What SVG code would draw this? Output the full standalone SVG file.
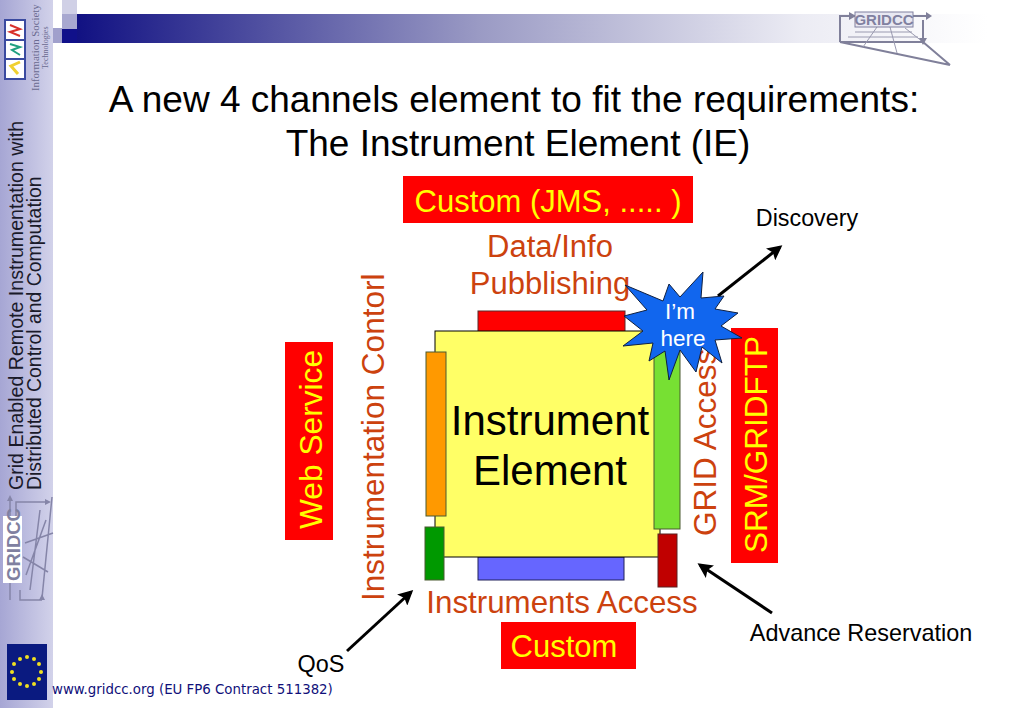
<svg xmlns="http://www.w3.org/2000/svg" width="1023" height="708" viewBox="0 0 1023 708">
<style>
text{font-family:"Liberation Sans",Arial,sans-serif}
.o{fill:#cc420e}
.y{fill:#ffff00}
.r{fill:#ff0000}
.b{stroke:#4a5a30;stroke-width:1}
.k{stroke:#000;stroke-width:3;fill:none;marker-end:url(#a)}
.w{fill:none;stroke:#8585a8;stroke-width:1.5}
.g{fill:none;stroke:#80809a;stroke-width:2}
.h{fill:none;stroke:#9a9ab0;stroke-width:1}
</style>
<defs>
<linearGradient id="s" x1="0" x2="1" y1="0" y2="0"><stop offset="0" stop-color="#a6a6d4"/><stop offset="1" stop-color="#d2d2ea"/></linearGradient>
<linearGradient id="t" x1="0" x2="1" y1="0" y2="0"><stop offset="0" stop-color="#0c0c80"/><stop offset=".45" stop-color="#9a9ac4"/><stop offset=".8" stop-color="#ececf4"/><stop offset="1" stop-color="#fff"/></linearGradient>
<marker id="a" markerWidth="5" markerHeight="5" refX="4" refY="2.5" orient="auto"><path d="M0 0L5 2.5L0 5L1 2.5Z" fill="#000"/></marker>
</defs>
<rect width="1023" height="708" fill="#fff"/>
<g id="sidebar">
<rect x="0" y="0" width="53" height="708" fill="url(#s)"/>
<rect x="62" y="14" width="925" height="29" fill="url(#t)"/>
<rect x="53" y="0" width="24" height="14" fill="#fff"/>
<rect x="62" y="0" width="15" height="14" fill="#d0d0e6"/>
<rect x="62" y="14" width="15" height="15" fill="#a8a8d0"/>
<rect x="53" y="28" width="9" height="15" fill="#a0a0cc"/>
<rect x="62" y="29" width="15" height="14" fill="#10108a"/>
<rect x="5" y="20" width="20" height="59" fill="#fff" stroke="#3a4aa0" stroke-width="2"/>
<path d="M5 40H25M5 59H25" stroke="#3a4aa0" stroke-width="2"/>
<path d="M10 25L20 29L10 32L20 36" fill="none" stroke="#d8302a" stroke-width="2"/>
<path d="M10 44L20 47L12 50L20 55" fill="none" stroke="#20a080" stroke-width="2"/>
<path d="M20 62L11 66L18 74" fill="none" stroke="#f0d030" stroke-width="3"/>
<text transform="translate(39,91) rotate(-90)" font-size="10.800" style="font-family:'Liberation Serif',serif" fill="#6a6a90">Information Society</text>
<text transform="translate(48,69) rotate(-90)" font-size="8" style="font-family:'Liberation Serif',serif" fill="#6a6a90">Technologies</text>
<text transform="translate(23,490) rotate(-90)" font-size="19.600" fill="#1a1a2a">Grid Enabled Remote Instrumentation with</text>
<text transform="translate(41,490) rotate(-90)" font-size="19.400" fill="#1a1a2a">Distributed Control and Computation</text>
<path class="w" d="M10 516V498M16 516V502H48M52 497L42 598M53 533L25 543M48 572L23 557M46 520L26 575M40 510L30 590M10 583V600M20 590V600H42"/>
<path d="M7 501L10 495L13 501ZM45 499L51 502L45 505ZM39 600L42 594L45 600Z" fill="#8585a8"/>
<rect x="3" y="516" width="19" height="67" fill="#fff"/>
<text transform="translate(20,581) rotate(-90)" font-size="18.500" font-weight="bold" fill="#8080a0">GRIDCC</text>
<rect x="7" y="644" width="40" height="56" fill="#0a1a80"/>
<g fill="#f0e020">
<circle cx="27" cy="657" r="2"/><circle cx="34" cy="659" r="2"/><circle cx="39" cy="664" r="2"/><circle cx="41" cy="672" r="2"/><circle cx="39" cy="679" r="2"/><circle cx="34" cy="684" r="2"/><circle cx="27" cy="686" r="2"/><circle cx="20" cy="684" r="2"/><circle cx="14" cy="679" r="2"/><circle cx="12" cy="672" r="2"/><circle cx="14" cy="664" r="2"/><circle cx="20" cy="659" r="2"/>
</g>
<text x="52" y="694" font-size="13.350" style="font-family:'DejaVu Sans',sans-serif" fill="#10107a">www.gridcc.org (EU FP6 Contract 511382)</text>
</g>
<g id="logo">
<path class="g" d="M855 16H846M840 25V16H846M840 25V42M913 16H928M923 20V42M840 42H923M840 42L950 65M923 42L950 65"/>
<path class="h" d="M855 32H912M848 37H918M863 47L877 27M897 53L890 27M923 42L905 28"/>
<path d="M849 12L856 16L849 20ZM926 12L932 16L926 20ZM919 38H927L923 45Z" fill="#80809a"/>
<rect x="855" y="12" width="58" height="15" fill="#e8e8f2" stroke="#8080a0"/>
<text x="884" y="25" font-size="15" font-weight="bold" fill="#8080a0" text-anchor="middle">GRIDCC</text>
</g>
<g id="title" font-size="37" fill="#000">
<text x="514" y="112" text-anchor="middle">A new 4 channels element to fit the requirements:</text>
<text x="518" y="156" text-anchor="middle">The Instrument Element (IE)</text>
</g>
<g id="custom-jms"><rect class="r" x="403" y="176" width="290" height="47"/><text class="y" x="548" y="212" font-size="31" text-anchor="middle">Custom (JMS, ..... )</text></g>
<g id="data-info" class="o" font-size="31"><text x="550" y="257" text-anchor="middle">Data/Info</text><text x="550" y="294" text-anchor="middle">Pubblishing</text></g>
<g id="web-service"><rect class="r" x="285" y="342" width="48" height="198"/><text class="y" transform="translate(322,529) rotate(-90)" font-size="31.700">Web Service</text></g>
<g id="instrumentation"><text class="o" transform="translate(384,601) rotate(-90)" font-size="31.500">Instrumentation Contorl</text></g>
<g id="top-bar"><rect x="478" y="311" width="147" height="21" fill="#ff0000" stroke="#5a2a2a"/></g>
<g id="bottom-bar"><rect x="478" y="557" width="146" height="23" fill="#6666ff" stroke="#20205a"/></g>
<g id="instrument-element"><rect x="435" y="331" width="225" height="226" fill="#ffff66" stroke="#000" stroke-width="1"/><text x="550" y="435" font-size="42" text-anchor="middle">Instrument</text><text x="550" y="485" font-size="42" text-anchor="middle">Element</text></g>
<g id="orange-bar"><rect x="426" y="352" width="20" height="164" fill="#ff9900" class="b"/></g>
<g id="green-bar"><rect x="425" y="527" width="19" height="53" fill="#009900" class="b"/></g>
<g id="lime-bar"><rect x="654" y="340" width="26" height="189" fill="#77e033" class="b"/></g>
<g id="dark-red-bar"><rect x="658" y="534" width="19" height="53" fill="#c00000" stroke="#5a2020"/></g>
<g id="grid-access"><text class="o" transform="translate(716,536) rotate(-90)" font-size="31.500">GRID Access</text></g>
<g id="srm"><rect class="r" x="731" y="328" width="47" height="235"/><text class="y" transform="translate(767,553) rotate(-90)" font-size="31.500">SRM/GRIDFTP</text></g>
<g id="connectors">
<path class="k" d="M718 296L780 247"/>
<path class="k" d="M772 613L700 565"/>
<path class="k" d="M347 651L411 592"/>
</g>
<g id="star"><path d="M625 285L647 310L624 316L643 331L623 346L653 343L649 361L665 351L669 380L680 350L696 372L702 347L722 363L715 340L742 338L721 326L738 313L715 309L724 296L701 298L703 272L680 297L669 284L663 301Z" fill="#1166ee" stroke="#102040" stroke-width="1"/>
<g fill="#fff" font-size="22.500" text-anchor="middle"><text x="680" y="319">I’m</text><text x="683" y="346">here</text></g></g>
<g id="discovery"><text x="807" y="226" font-size="23.300" text-anchor="middle">Discovery</text></g>
<g id="instruments-access"><text class="o" x="562" y="613" font-size="31.300" text-anchor="middle">Instruments Access</text></g>
<g id="custom"><rect class="r" x="501" y="622" width="135" height="47"/><text class="y" x="564" y="657" font-size="31" text-anchor="middle">Custom</text></g>
<g id="advance"><text x="861" y="641" font-size="23.400" text-anchor="middle">Advance Reservation</text></g>
<g id="qos"><text x="321" y="672" font-size="23.400" text-anchor="middle">QoS</text></g>
</svg>
